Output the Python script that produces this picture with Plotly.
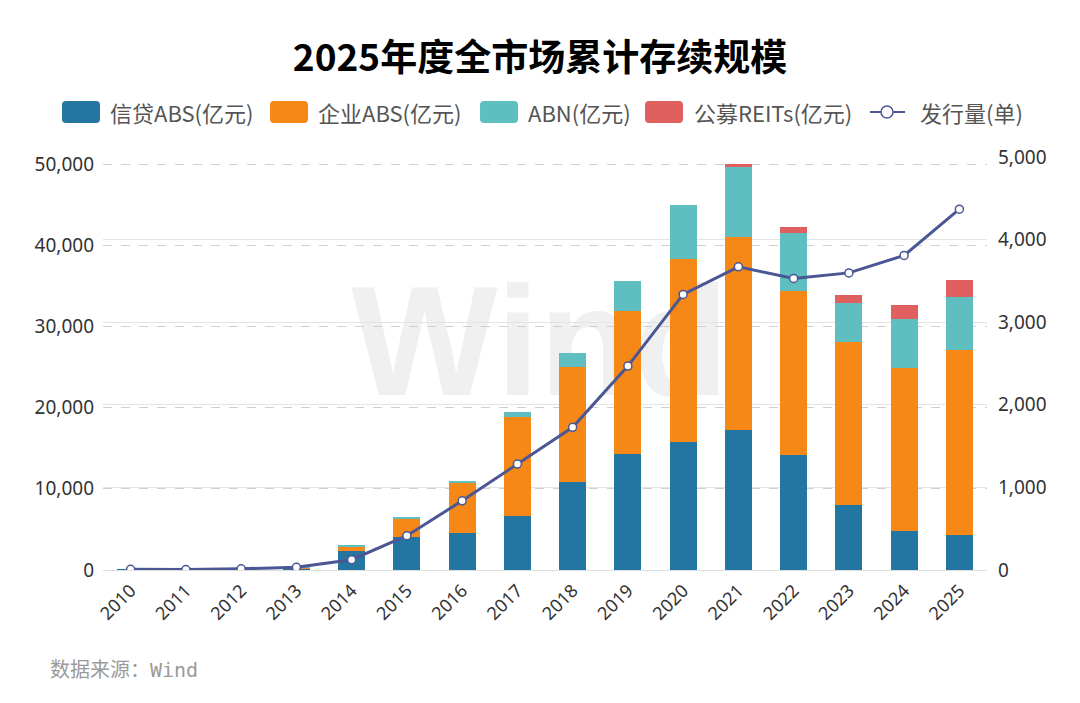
import base64
import plotly.graph_objects as go

years = [str(y) for y in range(2010, 2026)]
credit_abs = [50, 20, 80, 200, 2380, 4030, 4600, 6700, 10890, 14265, 15745, 17300, 14180, 7980, 4850, 4280]
corp_abs = [0, 0, 0, 70, 490, 2300, 6130, 12130, 14140, 17670, 22600, 23720, 20220, 20050, 19970, 22850]
abn = [0, 0, 0, 10, 170, 170, 280, 615, 1690, 3700, 6650, 8670, 7115, 4860, 6130, 6530]
reits = [0, 0, 0, 0, 0, 0, 0, 0, 0, 0, 0, 370, 775, 1020, 1690, 2100]
issuance = [8, 5, 15, 33, 125, 415, 838, 1283, 1727, 2469, 3336, 3670, 3530, 3597, 3808, 4368]

bar_names = ["信贷ABS(亿元)", "企业ABS(亿元)", "ABN(亿元)", "公募REITs(亿元)"]
line_name = "发行量(单)"

left_ticks = [0, 10000, 20000, 30000, 40000, 50000]
right_ticks = [0, 1000, 2000, 3000, 4000, 5000]

BLUE = "#2476a2"
ORANGE = "#f68818"
TEAL = "#5fbfc0"
RED = "#e05f5f"
LINE = "#4a5794"
bar_colors = [BLUE, ORANGE, TEAL, RED]

# figure geometry (page body adds 8px offset)
W, H = 1072, 695
L, R, T, B = 95, 93, 149, 133
PW, PH = W - L - R, H - T - B


def px(x):  # reference-image x pixel -> paper
    return (x - 8 - L) / PW


def py(y):  # reference-image y pixel -> paper
    return (H - B - (y - 8)) / PH


fig = go.Figure()
for name, vals, col in zip(bar_names, [credit_abs, corp_abs, abn, reits], bar_colors):
    fig.add_trace(go.Bar(x=years, y=vals, name=name, marker=dict(color=col, line=dict(width=0)), yaxis="y"))

fig.add_trace(go.Scatter(
    x=years, y=issuance, name=line_name, mode="lines+markers", yaxis="y2",
    line=dict(color=LINE, width=3),
    marker=dict(size=8, color="white", line=dict(color=LINE, width=1.5)),
))

svg = ('<svg xmlns="http://www.w3.org/2000/svg" width="420" height="140" viewBox="0 0 420 140">'
       '<text x="210" y="125" text-anchor="middle" font-family="Liberation Sans, Arial, sans-serif" '
       'font-weight="bold" font-size="155" fill="#f0f0f0">Wind</text></svg>')
src = "data:image/svg+xml;base64," + base64.b64encode(svg.encode("utf-8")).decode("ascii")

tickfont = dict(family="Noto Sans, Open Sans, sans-serif", size=19, color="#333333")

# custom legend (large rounded swatches like the reference)
shapes = []
annotations = []
sw_x = [62, 270, 480, 645]
txt_x = [108, 316, 526, 692]
ly = 112


def rounded_rect(x0, y0, x1, y1, r):
    pts = [
        f"M {px(x0 + r)},{py(y0)}", f"L {px(x1 - r)},{py(y0)}", f"Q {px(x1)},{py(y0)} {px(x1)},{py(y0 + r)}",
        f"L {px(x1)},{py(y1 - r)}", f"Q {px(x1)},{py(y1)} {px(x1 - r)},{py(y1)}",
        f"L {px(x0 + r)},{py(y1)}", f"Q {px(x0)},{py(y1)} {px(x0)},{py(y1 - r)}",
        f"L {px(x0)},{py(y0 + r)}", f"Q {px(x0)},{py(y0)} {px(x0 + r)},{py(y0)}", "Z",
    ]
    return " ".join(pts)


legend_font = dict(family="Noto Sans CJK SC, Noto Sans", size=22, color="#555555")
for name, col, sx, tx in zip(bar_names, bar_colors, sw_x, txt_x):
    shapes.append(dict(type="path", xref="paper", yref="paper", path=rounded_rect(sx, ly - 11, sx + 38, ly + 11, 4),
                       fillcolor=col, line=dict(width=0)))
    annotations.append(dict(text=name, xref="paper", yref="paper", x=px(tx), y=py(ly), xanchor="left", yanchor="middle",
                            showarrow=False, font=legend_font))
shapes.append(dict(type="line", xref="paper", yref="paper", x0=px(870), x1=px(905), y0=py(ly), y1=py(ly),
                   line=dict(color=LINE, width=2)))
shapes.append(dict(type="circle", xref="paper", yref="paper", x0=px(881), x1=px(893), y0=py(ly - 6), y1=py(ly + 6),
                   fillcolor="white", line=dict(color=LINE, width=1.5)))
annotations.append(dict(text=line_name, xref="paper", yref="paper", x=px(918), y=py(ly), xanchor="left", yanchor="middle",
                        showarrow=False, font=legend_font))
annotations.append(dict(text="数据来源：Wind", xref="paper", yref="paper", x=px(48), y=py(670),
                        xanchor="left", yanchor="middle", showarrow=False,
                        font=dict(family="DejaVu Sans Mono, Noto Sans CJK SC", size=20, color="#9a9a9a")))

fig.update_layout(
    width=W, height=H,
    paper_bgcolor="white", plot_bgcolor="white",
    margin=dict(l=L, r=R, t=T, b=B, autoexpand=False),
    barmode="stack", bargap=0.51,
    font=dict(family="Noto Sans CJK SC, Noto Sans, sans-serif"),
    title=dict(text="2025年度全市场累计存续规模", x=(540 - 8) / W, xanchor="center", y=1 - 50 / H, yanchor="middle",
               font=dict(family="Noto Sans CJK SC", size=37, color="#000000", weight="bold")),
    showlegend=False,
    xaxis=dict(type="category", range=[-0.5, 15.5], tickangle=-45, tickmode="array", tickvals=years, ticktext=years,
               tickfont=dict(family="Noto Sans, Open Sans", size=18, color="#333333"), ticklabelstandoff=2,
               showgrid=False, showline=True, linecolor="#dddddd", linewidth=1, ticks=""),
    yaxis=dict(range=[0, 50000 * 413 / 406], tickvals=left_ticks, tickformat=",", tickfont=tickfont, ticklabelstandoff=8,
               showgrid=True, gridcolor="#d0d0d0", griddash="dash", gridwidth=1, zeroline=False, ticks=""),
    yaxis2=dict(range=[0, 5000], tickvals=right_ticks, tickformat=",", tickfont=tickfont, overlaying="y", side="right",
                ticklabelstandoff=10,
                showgrid=True, gridcolor="#e4e4e4", gridwidth=1, zeroline=False, ticks=""),
    images=[dict(source=src, xref="paper", yref="paper", x=px(330), y=py(270),
                 sizex=420 / PW, sizey=140 / PH, xanchor="left", yanchor="top", sizing="stretch", layer="below")],
    shapes=shapes,
    annotations=annotations,
)

fig.write_html("out.html")
